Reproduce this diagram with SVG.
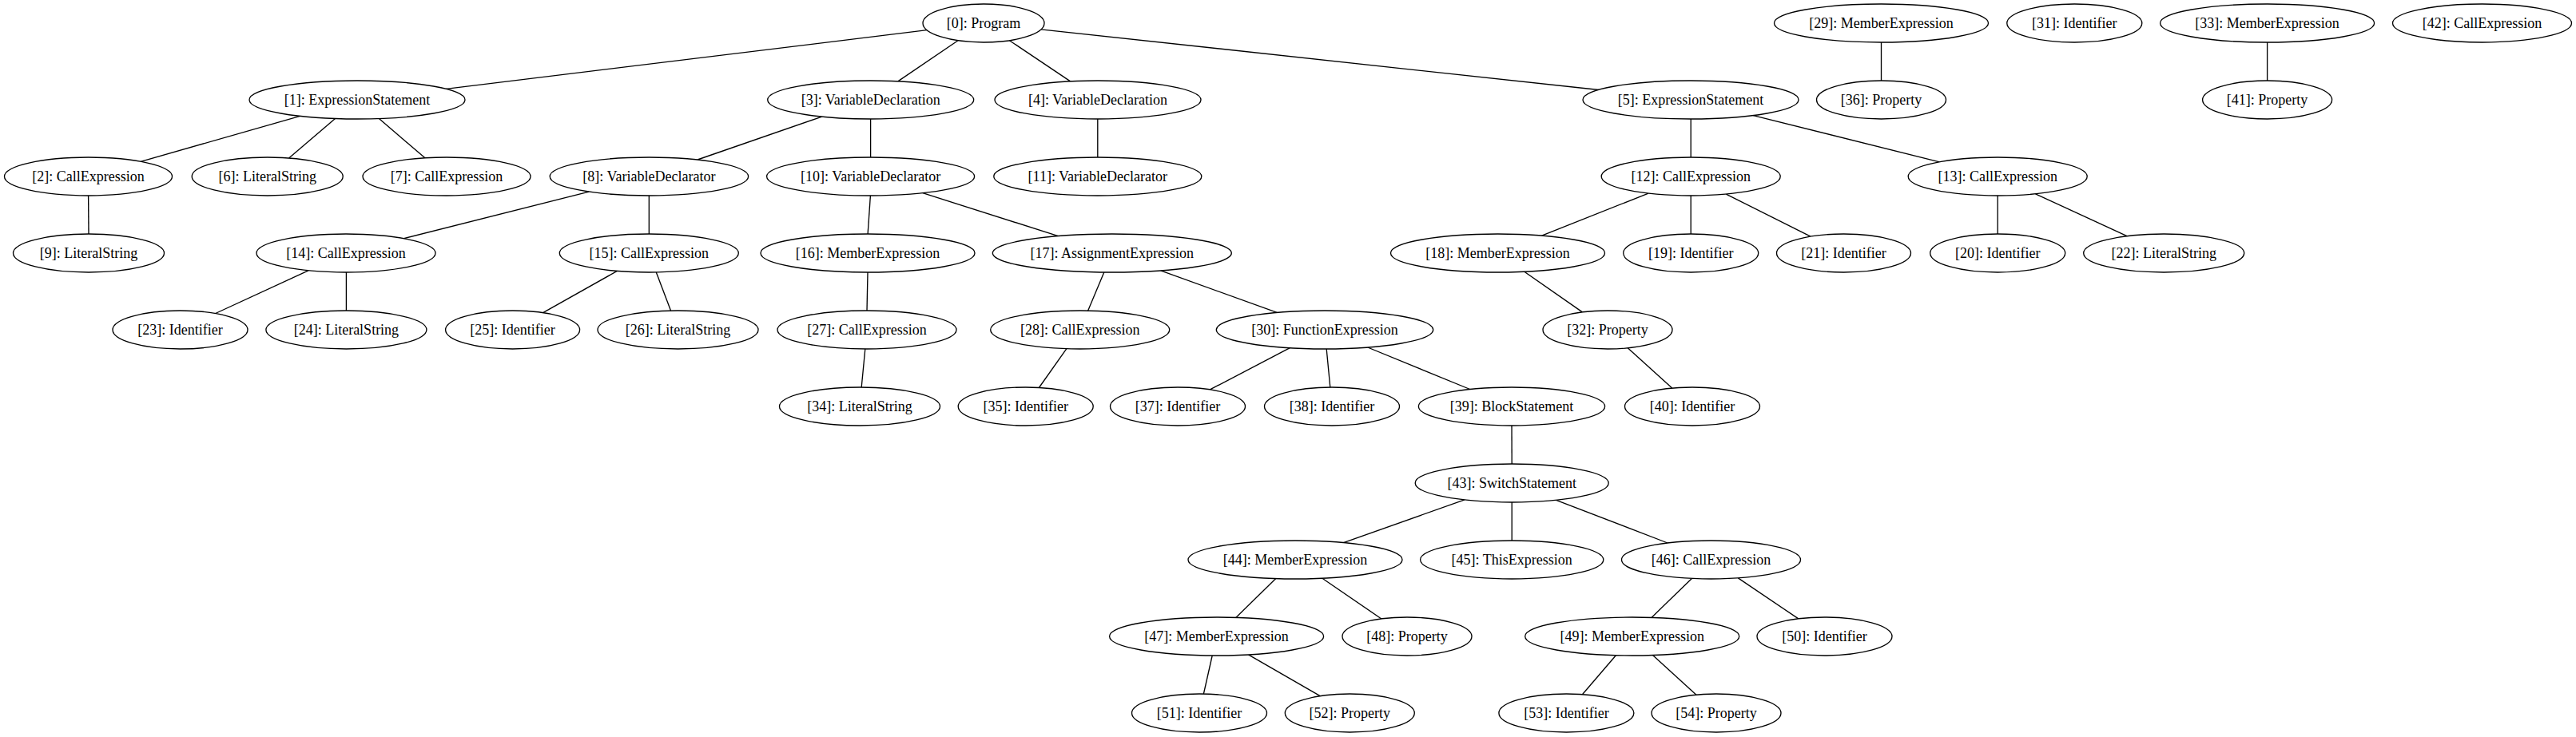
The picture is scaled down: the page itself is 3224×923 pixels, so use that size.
<svg xmlns="http://www.w3.org/2000/svg" width="3224" height="923" viewBox="0 0 3224 923">
<style>
.node ellipse{fill:#fff;stroke:#000;stroke-width:1.33}
.node text{font-family:"Liberation Serif","Times New Roman",serif;font-size:18px;text-anchor:middle;fill:#000}
#edges line{stroke:#000;stroke-width:1.33}
</style>
<rect x="0" y="0" width="3224" height="923" fill="#fff"/>
<g id="edges">
<line x1="1160.1" y1="37.7" x2="558.2" y2="111.4"/>
<line x1="1199" y1="50.8" x2="1123.8" y2="101.9"/>
<line x1="1263.4" y1="50.7" x2="1339.6" y2="101.9"/>
<line x1="1302.9" y1="36.8" x2="2000.8" y2="112.5"/>
<line x1="375.6" y1="145.4" x2="176.1" y2="202.3"/>
<line x1="419.5" y1="148.5" x2="361.6" y2="198"/>
<line x1="474.4" y1="148.5" x2="531.9" y2="197.8"/>
<line x1="110.6" y1="245" x2="111" y2="293"/>
<line x1="1028.7" y1="146.1" x2="873" y2="200"/>
<line x1="1089.6" y1="149" x2="1089.6" y2="197"/>
<line x1="1373.8" y1="149" x2="1373.8" y2="197"/>
<line x1="2116.2" y1="149" x2="2116.2" y2="197"/>
<line x1="2194.3" y1="144.6" x2="2427.4" y2="202.8"/>
<line x1="737.1" y1="240.1" x2="505.4" y2="298.7"/>
<line x1="812.3" y1="245" x2="812.3" y2="293"/>
<line x1="1089.4" y1="245" x2="1086.1" y2="293"/>
<line x1="1154.8" y1="241.7" x2="1324.4" y2="295.6"/>
<line x1="2063.1" y1="242.1" x2="1929.6" y2="295.1"/>
<line x1="2116.2" y1="245" x2="2116.2" y2="293"/>
<line x1="2160.3" y1="243.1" x2="2266" y2="296.1"/>
<line x1="2500.2" y1="245" x2="2500.2" y2="293"/>
<line x1="2547.5" y1="242.8" x2="2662" y2="295.7"/>
<line x1="385.9" y1="338.8" x2="269.7" y2="392.5"/>
<line x1="433.4" y1="341" x2="433.4" y2="389"/>
<line x1="772.4" y1="339.4" x2="679.6" y2="391.6"/>
<line x1="821.3" y1="340.9" x2="839.5" y2="389.1"/>
<line x1="1086" y1="341" x2="1085" y2="389"/>
<line x1="1381.8" y1="340.9" x2="1361.7" y2="389.1"/>
<line x1="1452.6" y1="338.9" x2="1598.2" y2="391.4"/>
<line x1="1907.8" y1="340.2" x2="1980.4" y2="390.9"/>
<line x1="1082.8" y1="437" x2="1078.2" y2="485"/>
<line x1="1334.9" y1="436.7" x2="1300.4" y2="485.5"/>
<line x1="2354.5" y1="53" x2="2354.5" y2="101"/>
<line x1="1614.4" y1="435.7" x2="1514.4" y2="487.9"/>
<line x1="1660.2" y1="437" x2="1664.8" y2="485"/>
<line x1="1711.7" y1="435" x2="1839.7" y2="487.5"/>
<line x1="2037.2" y1="435.8" x2="2092.7" y2="486.1"/>
<line x1="2837.6" y1="53" x2="2837.6" y2="101"/>
<line x1="1892" y1="533" x2="1892.2" y2="581"/>
<line x1="1833.1" y1="625.9" x2="1681.5" y2="679.6"/>
<line x1="1892.2" y1="629" x2="1892.2" y2="677"/>
<line x1="1947.6" y1="626.3" x2="2087.1" y2="680"/>
<line x1="1596.8" y1="724.6" x2="1546.8" y2="773.4"/>
<line x1="1654.9" y1="724.2" x2="1728.9" y2="775"/>
<line x1="2117.4" y1="724.4" x2="2067" y2="773.4"/>
<line x1="2175.3" y1="723.9" x2="2250.8" y2="774.9"/>
<line x1="1517.2" y1="821" x2="1506.4" y2="869"/>
<line x1="1562.4" y1="819.9" x2="1652.2" y2="871.7"/>
<line x1="2022.4" y1="820.7" x2="1980.4" y2="869.7"/>
<line x1="2068.5" y1="820.5" x2="2123" y2="870.2"/>
</g>
<g id="node0" class="node"><ellipse cx="1231" cy="29" rx="76" ry="24"/><text x="1231" y="35">[0]: Program</text></g>
<g id="node29" class="node"><ellipse cx="2354.5" cy="29" rx="134" ry="24"/><text x="2354.5" y="35">[29]: MemberExpression</text></g>
<g id="node31" class="node"><ellipse cx="2596.3" cy="29" rx="84.5" ry="24"/><text x="2596.3" y="35">[31]: Identifier</text></g>
<g id="node33" class="node"><ellipse cx="2837.6" cy="29" rx="134" ry="24"/><text x="2837.6" y="35">[33]: MemberExpression</text></g>
<g id="node42" class="node"><ellipse cx="3106.5" cy="29" rx="112" ry="24"/><text x="3106.5" y="35">[42]: CallExpression</text></g>
<g id="node1" class="node"><ellipse cx="447" cy="125" rx="135" ry="24"/><text x="447" y="131">[1]: ExpressionStatement</text></g>
<g id="node3" class="node"><ellipse cx="1089.7" cy="125" rx="129" ry="24"/><text x="1089.7" y="131">[3]: VariableDeclaration</text></g>
<g id="node4" class="node"><ellipse cx="1374" cy="125" rx="129" ry="24"/><text x="1374" y="131">[4]: VariableDeclaration</text></g>
<g id="node5" class="node"><ellipse cx="2116" cy="125" rx="135" ry="24"/><text x="2116" y="131">[5]: ExpressionStatement</text></g>
<g id="node36" class="node"><ellipse cx="2354.5" cy="125" rx="81" ry="24"/><text x="2354.5" y="131">[36]: Property</text></g>
<g id="node41" class="node"><ellipse cx="2837.6" cy="125" rx="81" ry="24"/><text x="2837.6" y="131">[41]: Property</text></g>
<g id="node2" class="node"><ellipse cx="110.5" cy="221" rx="105" ry="24"/><text x="110.5" y="227">[2]: CallExpression</text></g>
<g id="node6" class="node"><ellipse cx="334.7" cy="221" rx="94.5" ry="24"/><text x="334.7" y="227">[6]: LiteralString</text></g>
<g id="node7" class="node"><ellipse cx="559" cy="221" rx="105" ry="24"/><text x="559" y="227">[7]: CallExpression</text></g>
<g id="node8" class="node"><ellipse cx="812.4" cy="221" rx="124.2" ry="24"/><text x="812.4" y="227">[8]: VariableDeclarator</text></g>
<g id="node10" class="node"><ellipse cx="1089.6" cy="221" rx="130" ry="24"/><text x="1089.6" y="227">[10]: VariableDeclarator</text></g>
<g id="node11" class="node"><ellipse cx="1373.8" cy="221" rx="130" ry="24"/><text x="1373.8" y="227">[11]: VariableDeclarator</text></g>
<g id="node12" class="node"><ellipse cx="2116.2" cy="221" rx="112" ry="24"/><text x="2116.2" y="227">[12]: CallExpression</text></g>
<g id="node13" class="node"><ellipse cx="2500.2" cy="221" rx="112" ry="24"/><text x="2500.2" y="227">[13]: CallExpression</text></g>
<g id="node9" class="node"><ellipse cx="111" cy="317" rx="94.5" ry="24"/><text x="111" y="323">[9]: LiteralString</text></g>
<g id="node14" class="node"><ellipse cx="433" cy="317" rx="112" ry="24"/><text x="433" y="323">[14]: CallExpression</text></g>
<g id="node15" class="node"><ellipse cx="812.3" cy="317" rx="112" ry="24"/><text x="812.3" y="323">[15]: CallExpression</text></g>
<g id="node16" class="node"><ellipse cx="1086" cy="317" rx="134" ry="24"/><text x="1086" y="323">[16]: MemberExpression</text></g>
<g id="node17" class="node"><ellipse cx="1391.8" cy="317" rx="149.5" ry="24"/><text x="1391.8" y="323">[17]: AssignmentExpression</text></g>
<g id="node18" class="node"><ellipse cx="1874.5" cy="317" rx="134" ry="24"/><text x="1874.5" y="323">[18]: MemberExpression</text></g>
<g id="node19" class="node"><ellipse cx="2116.2" cy="317" rx="84.5" ry="24"/><text x="2116.2" y="323">[19]: Identifier</text></g>
<g id="node21" class="node"><ellipse cx="2307.5" cy="317" rx="84" ry="24"/><text x="2307.5" y="323">[21]: Identifier</text></g>
<g id="node20" class="node"><ellipse cx="2500.2" cy="317" rx="84.5" ry="24"/><text x="2500.2" y="323">[20]: Identifier</text></g>
<g id="node22" class="node"><ellipse cx="2708.2" cy="317" rx="100.5" ry="24"/><text x="2708.2" y="323">[22]: LiteralString</text></g>
<g id="node23" class="node"><ellipse cx="225.5" cy="413" rx="84.5" ry="24"/><text x="225.5" y="419">[23]: Identifier</text></g>
<g id="node24" class="node"><ellipse cx="433.4" cy="413" rx="100.5" ry="24"/><text x="433.4" y="419">[24]: LiteralString</text></g>
<g id="node25" class="node"><ellipse cx="641.6" cy="413" rx="84" ry="24"/><text x="641.6" y="419">[25]: Identifier</text></g>
<g id="node26" class="node"><ellipse cx="848.5" cy="413" rx="100.5" ry="24"/><text x="848.5" y="419">[26]: LiteralString</text></g>
<g id="node27" class="node"><ellipse cx="1085" cy="413" rx="112" ry="24"/><text x="1085" y="419">[27]: CallExpression</text></g>
<g id="node28" class="node"><ellipse cx="1351.7" cy="413" rx="112" ry="24"/><text x="1351.7" y="419">[28]: CallExpression</text></g>
<g id="node30" class="node"><ellipse cx="1658" cy="413" rx="135.7" ry="24"/><text x="1658" y="419">[30]: FunctionExpression</text></g>
<g id="node32" class="node"><ellipse cx="2012" cy="413" rx="81" ry="24"/><text x="2012" y="419">[32]: Property</text></g>
<g id="node34" class="node"><ellipse cx="1076" cy="509" rx="100.5" ry="24"/><text x="1076" y="515">[34]: LiteralString</text></g>
<g id="node35" class="node"><ellipse cx="1283.7" cy="509" rx="84.5" ry="24"/><text x="1283.7" y="515">[35]: Identifier</text></g>
<g id="node37" class="node"><ellipse cx="1474" cy="509" rx="84.5" ry="24"/><text x="1474" y="515">[37]: Identifier</text></g>
<g id="node38" class="node"><ellipse cx="1667" cy="509" rx="84.5" ry="24"/><text x="1667" y="515">[38]: Identifier</text></g>
<g id="node39" class="node"><ellipse cx="1892" cy="509" rx="116.6" ry="24"/><text x="1892" y="515">[39]: BlockStatement</text></g>
<g id="node40" class="node"><ellipse cx="2118" cy="509" rx="84.5" ry="24"/><text x="2118" y="515">[40]: Identifier</text></g>
<g id="node43" class="node"><ellipse cx="1892.2" cy="605" rx="121" ry="24"/><text x="1892.2" y="611">[43]: SwitchStatement</text></g>
<g id="node44" class="node"><ellipse cx="1621" cy="701" rx="134" ry="24"/><text x="1621" y="707">[44]: MemberExpression</text></g>
<g id="node45" class="node"><ellipse cx="1892.2" cy="701" rx="114.6" ry="24"/><text x="1892.2" y="707">[45]: ThisExpression</text></g>
<g id="node46" class="node"><ellipse cx="2141.5" cy="701" rx="112" ry="24"/><text x="2141.5" y="707">[46]: CallExpression</text></g>
<g id="node47" class="node"><ellipse cx="1522.6" cy="797" rx="134" ry="24"/><text x="1522.6" y="803">[47]: MemberExpression</text></g>
<g id="node48" class="node"><ellipse cx="1761" cy="797" rx="81" ry="24"/><text x="1761" y="803">[48]: Property</text></g>
<g id="node49" class="node"><ellipse cx="2042.7" cy="797" rx="134" ry="24"/><text x="2042.7" y="803">[49]: MemberExpression</text></g>
<g id="node50" class="node"><ellipse cx="2283.5" cy="797" rx="84.5" ry="24"/><text x="2283.5" y="803">[50]: Identifier</text></g>
<g id="node51" class="node"><ellipse cx="1501" cy="893" rx="84.5" ry="24"/><text x="1501" y="899">[51]: Identifier</text></g>
<g id="node52" class="node"><ellipse cx="1689.3" cy="893" rx="81" ry="24"/><text x="1689.3" y="899">[52]: Property</text></g>
<g id="node53" class="node"><ellipse cx="1960.4" cy="893" rx="84.5" ry="24"/><text x="1960.4" y="899">[53]: Identifier</text></g>
<g id="node54" class="node"><ellipse cx="2148" cy="893" rx="81" ry="24"/><text x="2148" y="899">[54]: Property</text></g>
</svg>
